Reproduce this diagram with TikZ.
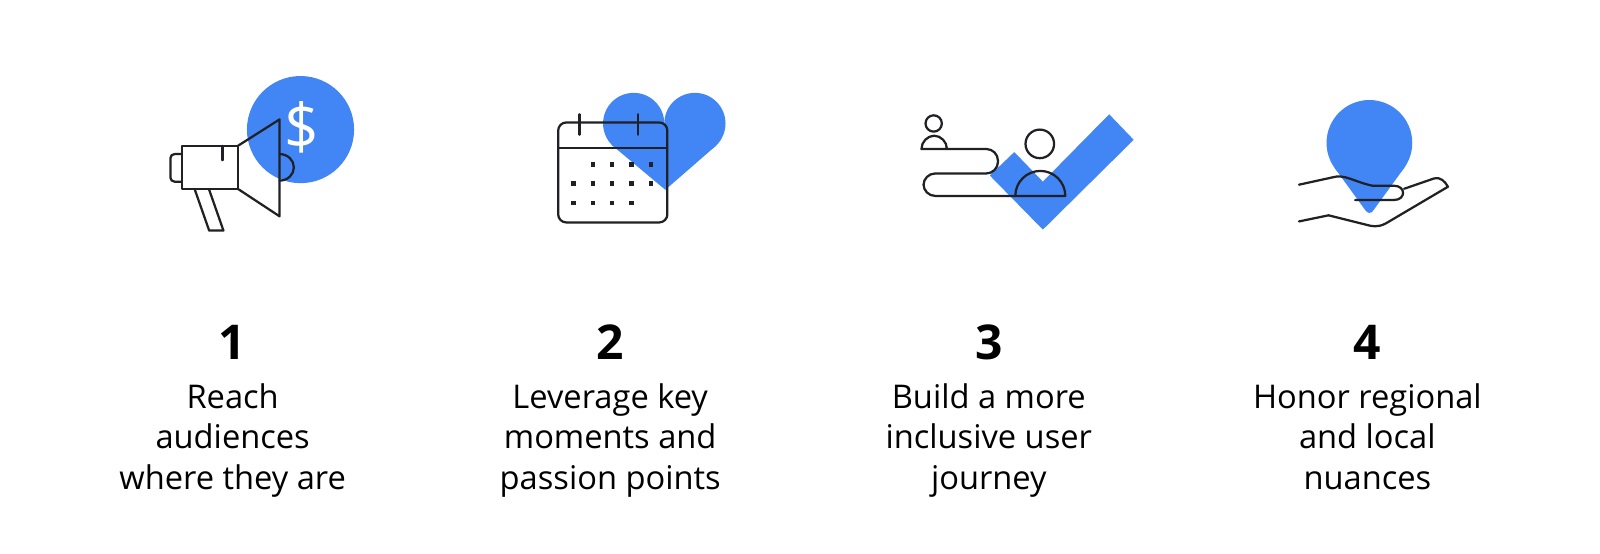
\documentclass[tikz,border=0pt]{standalone}
\usepackage{fontspec}
\setmainfont{Open Sans}
\definecolor{gblue}{HTML}{4285F4}
\definecolor{ink}{HTML}{202124}
\tikzset{
  art/.style={draw=ink,line width=2.2pt,line join=round,line cap=round},
  blueshape/.style={fill=gblue,draw=none},
  numlabel/.style={font=\fontsize{47}{47}\selectfont\bfseries,text=black,anchor=base},
  caplabel/.style={font=\fontsize{32}{40}\selectfont,text=black,align=center,anchor=base,text depth=0pt},
}
\begin{document}
\begin{tikzpicture}[x=1pt,y=-1pt]
\useasboundingbox (0,0) rectangle (1568,542);
% --- 1 megaphone
\fill[blueshape] (294.5,127) circle (52.5pt);
\node[font=\fontsize{62}{62}\selectfont,text=white,xscale=0.95] (dollar) at (296,125) {\$};
\draw[art] (178,143) rectangle (233,185);
\draw[art] (233,143) -- (274,117) -- (274,212) -- (233,185);
\draw[art] (218,143) -- (218,157);
\draw[art,rounded corners=4pt] (178,151) -- (167,151) -- (167,178) -- (178,178);
\draw[art] (274,151) .. controls (282,151) and (288,157) .. (288,164) .. controls (288,171) and (282,177) .. (274,177);
\draw[art] (191,186) -- (205,226) -- (219,226) -- (205,186);
% --- 2 calendar
\fill[blueshape] (621,121) circle (30pt);
\fill[blueshape] (681,121) circle (30pt);
\fill[blueshape] (652,186) -- (600,142.5) -- (621,121) -- (651,121) -- (681,121) -- (702,142.5) -- cycle;
\draw[art,rounded corners=8pt] (547,120) rectangle (654,218);
\draw[art] (547,145) -- (654,145);
\draw[art] (568,112) -- (568,132);
\draw[art] (625,112) -- (625,132);
\foreach \x in {581,600,619,638} \fill[ink] (\x-2.2,158.8) rectangle +(4.4,4.4);
\foreach \x in {562,581,600,619,638} \fill[ink] (\x-2.2,177.8) rectangle +(4.4,4.4);
\foreach \x in {562,581,600,619} \fill[ink] (\x-2.2,196.8) rectangle +(4.4,4.4);
% --- 3 check and people
\fill[blueshape] (1087,112) -- (1111,137) -- (1022,225) -- (970,172) -- (994,149) -- (1022,178) -- cycle;
\draw[art] (915,121) circle (8pt);
\draw[art] (903,146) .. controls (903,139) and (909,133) .. (915.5,133) .. controls (922,133) and (928,139) .. (928,146) -- cycle;
\draw[art,rounded corners=11.5pt] (928,146) -- (978,146) -- (978,170) -- (905,170) -- (905,192) -- (995,192);
\draw[art] (995,192) .. controls (995,178.5) and (1006,167.5) .. (1019.5,167.5) .. controls (1033,167.5) and (1044,178.5) .. (1044,192) -- cycle;
\draw[art] (1019,141) circle (14pt);
% --- 4 pin and hand
\fill[blueshape] (1342,140) circle (42pt);
\fill[blueshape] (1307.6,164.1) -- (1338,206) .. controls (1340,209.5) and (1344,209.5) .. (1346,206) -- (1376.4,164.1) -- cycle;
\draw[art] (1273,181) -- (1305,174) .. controls (1318,170) and (1326,178) .. (1345,182) -- (1366,182) .. controls (1378,182) and (1378,196) .. (1366,196) -- (1328,196);
\draw[art] (1376,185) -- (1405,175) .. controls (1412,173) and (1416,178) .. (1419,183) -- (1358,219) .. controls (1350,223) and (1345,222) .. (1338,220) -- (1302,211) -- (1273,217);
% --- labels
\node[numlabel] (n1) at (228,352) {1};
\node[numlabel] (n2) at (598,352) {2};
\node[numlabel] (n3) at (969,352) {3};
\node[numlabel] (n4) at (1340,352) {4};
\node[caplabel] (c1) at (228,480) {Reach\\audiences\\where they are};
\node[caplabel] (c2) at (598,480) {Leverage key\\moments and\\passion points};
\node[caplabel] (c3) at (969,480) {Build a more\\inclusive user\\journey};
\node[caplabel] (c4) at (1340,480) {Honor regional\\and local\\nuances};
\end{tikzpicture}
\end{document}
